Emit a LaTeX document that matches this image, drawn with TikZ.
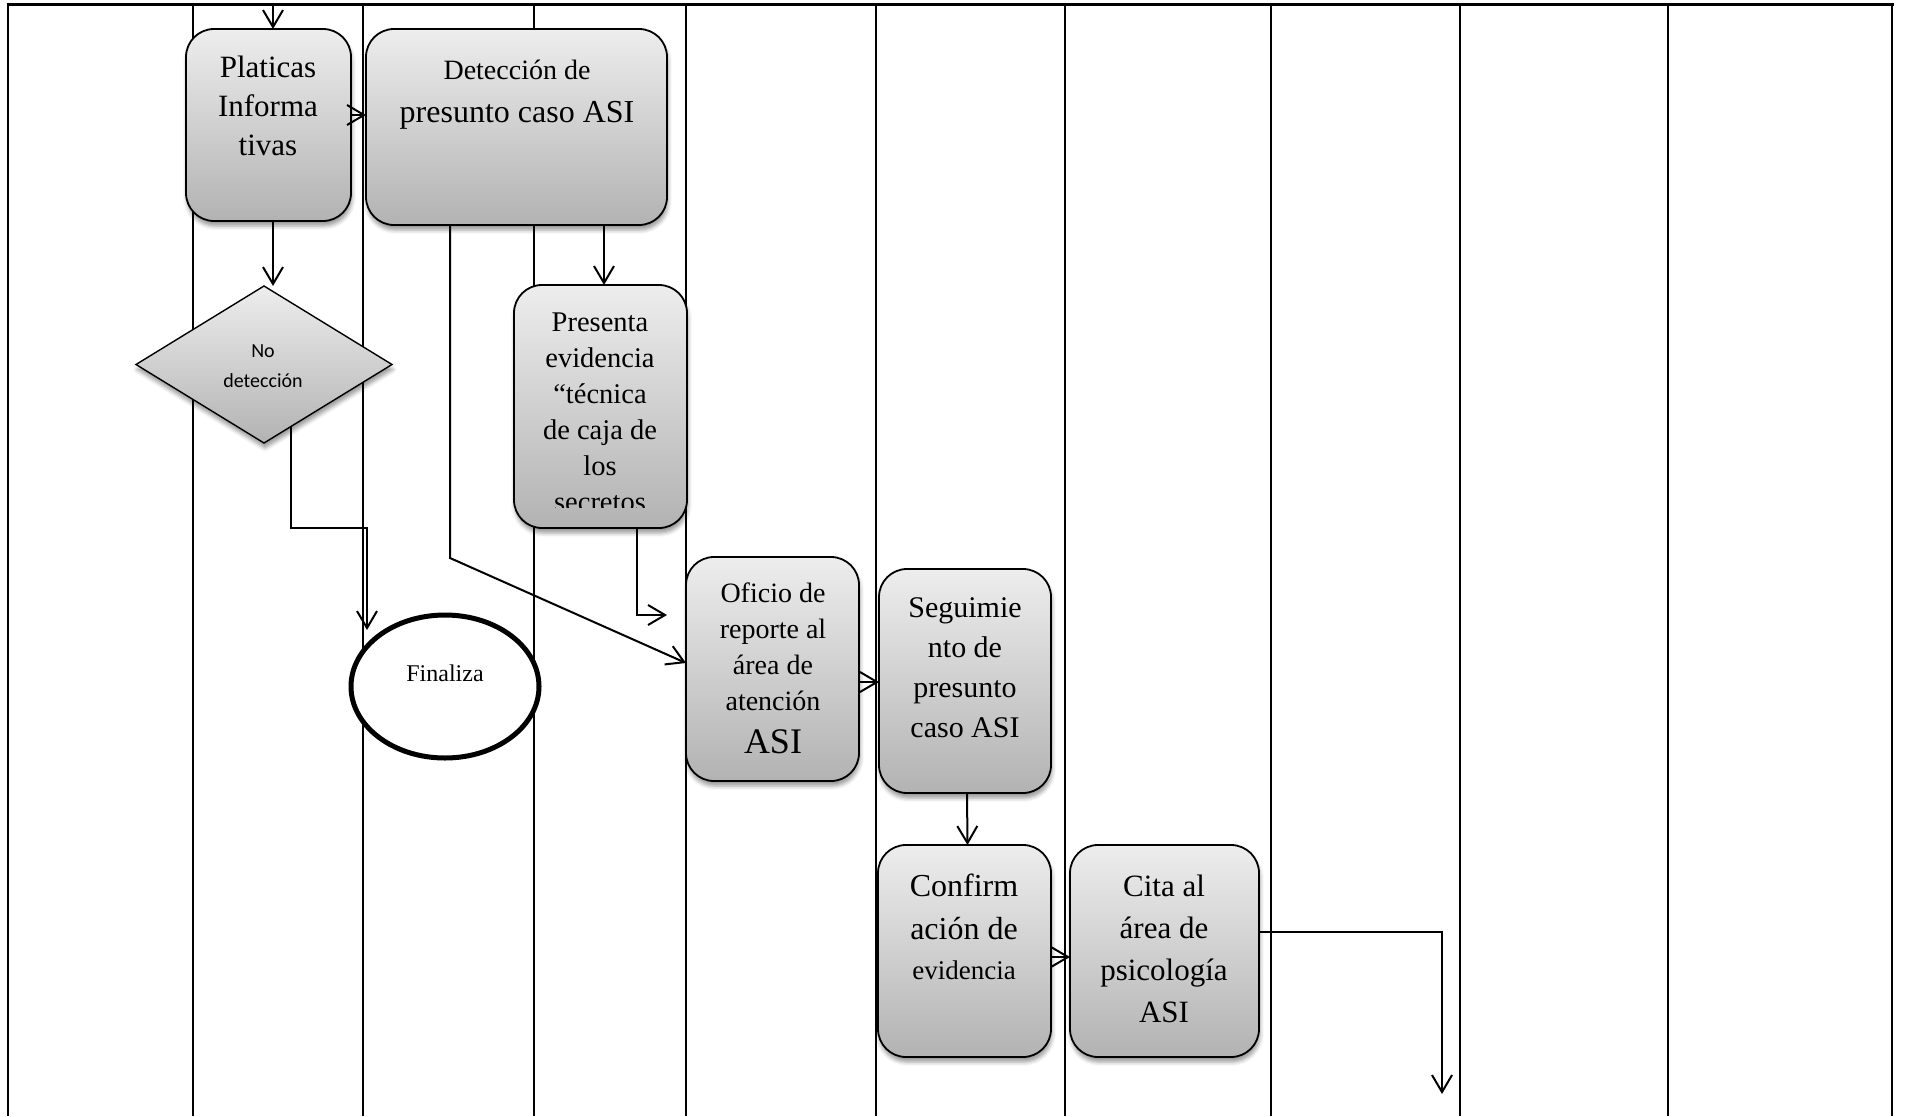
\documentclass[tikz,border=0pt]{standalone}
\usepackage{fontspec}
\setmainfont{Liberation Serif}
\newfontfamily\diagsans{Carlito}
\usetikzlibrary{arrows.meta,shapes.geometric,shadows.blur,calc}

\begin{document}
\begin{tikzpicture}[x=1pt,y=-1pt,
  lane/.style={line width=1.8pt},
  stepbox/.style={draw, line width=1.8pt, rounded corners=28pt,
    top color=black!7, bottom color=black!30, inner sep=0pt, outer sep=0pt,
    blur shadow={shadow xshift=1pt, shadow yshift=-5pt, shadow blur radius=4pt, shadow opacity=40}},
  decision/.style={diamond, draw, line width=1.4pt, top color=black!7, bottom color=black!30,
    inner sep=0pt, outer sep=0pt,
    blur shadow={shadow xshift=1pt, shadow yshift=-5pt, shadow blur radius=4pt, shadow opacity=40}},
  terminal/.style={ellipse, draw, line width=5pt, fill=white, inner sep=0pt, outer sep=0pt},
  txt/.style={align=center, inner sep=0pt},
  flow/.style={line width=2pt, -{Straight Barb[length=17pt,width=20pt,line width=2pt]}}
]
\useasboundingbox (0,0) rectangle (1905,1116);

% swimlane grid
\foreach \x in {8,193,363,534,686,876,1065,1271,1460,1668,1892}
  \draw[lane] (\x,5) -- (\x,1116);
\draw[line width=3pt] (6.5,5) -- (1893.5,5);

% process steps
\node[stepbox, minimum width=165pt, minimum height=192pt] (plat) at (268.5,125) {};
\node[txt, font=\fontsize{31}{39}\selectfont] (platT) at (268,105.5) {Platicas\\Informa\\tivas};

\node[stepbox, minimum width=301pt, minimum height=196pt] (det) at (516.5,127) {};
\node[txt, font=\fontsize{32}{43}\selectfont] (detT) at (517,95) {{\fontsize{28}{36}\selectfont Detección de}\\presunto caso ASI};

\node[decision, minimum width=256pt, minimum height=157pt] (nodet) at (264,364.5) {};
\node[txt, font=\diagsans\fontsize{20}{30}\selectfont] (nodetT) at (263,366) {No\\detección};

\node[stepbox, minimum width=173pt, minimum height=243pt] (pres) at (600.5,406.5) {};
\begin{scope}
  \clip (514,285) rectangle (687,507);
  \node[txt, font=\fontsize{28.5}{36}\selectfont] (presT) at (600,412) {Presenta\\evidencia\\“técnica\\de caja de\\los\\secretos};
\end{scope}

\node[terminal, minimum width=188pt, minimum height=143pt] (fin) at (445,686.5) {};
\node[txt, font=\fontsize{24}{28}\selectfont] (finT) at (445,673) {Finaliza};

\node[stepbox, minimum width=173pt, minimum height=224pt] (ofi) at (772.5,669) {};
\node[txt, font=\fontsize{28}{36}\selectfont] (ofiT) at (773,668.5) {Oficio de\\reporte al\\área de\\atención\\[7pt]{\fontsize{36}{40}\selectfont ASI}};

\node[stepbox, minimum width=172pt, minimum height=224pt] (seg) at (965,681) {};
\node[txt, font=\fontsize{30}{40}\selectfont] (segT) at (965,668) {Seguimie\\nto de\\presunto\\caso ASI};

\node[stepbox, minimum width=173pt, minimum height=212pt] (conf) at (964.5,951) {};
\node[txt, font=\fontsize{32}{43}\selectfont] (confT) at (964,927) {Confirm\\ación de\\[-3pt]{\fontsize{27}{32}\selectfont evidencia}};

\node[stepbox, minimum width=189pt, minimum height=212pt] (cita) at (1164.5,951) {};
\node[txt, font=\fontsize{31}{42}\selectfont] (citaT) at (1164,948.5) {Cita al\\área de\\psicología\\ASI};

% connectors
\coordinate (topIn) at (273,5);
\draw[flow] (topIn) -- (topIn |- plat.north);
\draw[flow] ([yshift=10pt]plat.east) -- ([yshift=10pt]plat.east -| det.west);
\draw[flow] ([xshift=4.5pt]plat.south) -- ([xshift=4.5pt]plat.south |- nodet.north);
\draw[flow] ([xshift=87.5pt]det.south) -- ([xshift=87.5pt]det.south |- pres.north);

\coordinate (bendA) at (450,558);
\draw[flow] ([xshift=-66.5pt]det.south) -- (bendA) -- ([yshift=6pt]ofi.west);

\coordinate (bendB) at (367,528);
\coordinate (finIn) at (367,630);
\draw[flow] (nodet.-66.3) |- (bendB) -- (finIn);

\coordinate (presOut) at (667,615);
\draw[flow] ([xshift=36.5pt]pres.south) |- (presOut);

\draw[flow] ([yshift=-13pt]ofi.east) -- ([yshift=-13pt]ofi.east -| seg.west);
\draw[flow] ([xshift=2pt]seg.south) -- ([xshift=3pt]conf.north);
\draw[flow] ([yshift=-6pt]conf.east) -- ([yshift=-6pt]conf.east -| cita.west);

\coordinate (citaOut) at (1442,1094);
\draw[flow] ([yshift=19pt]cita.east) -| (citaOut);
\end{tikzpicture}
\end{document}
